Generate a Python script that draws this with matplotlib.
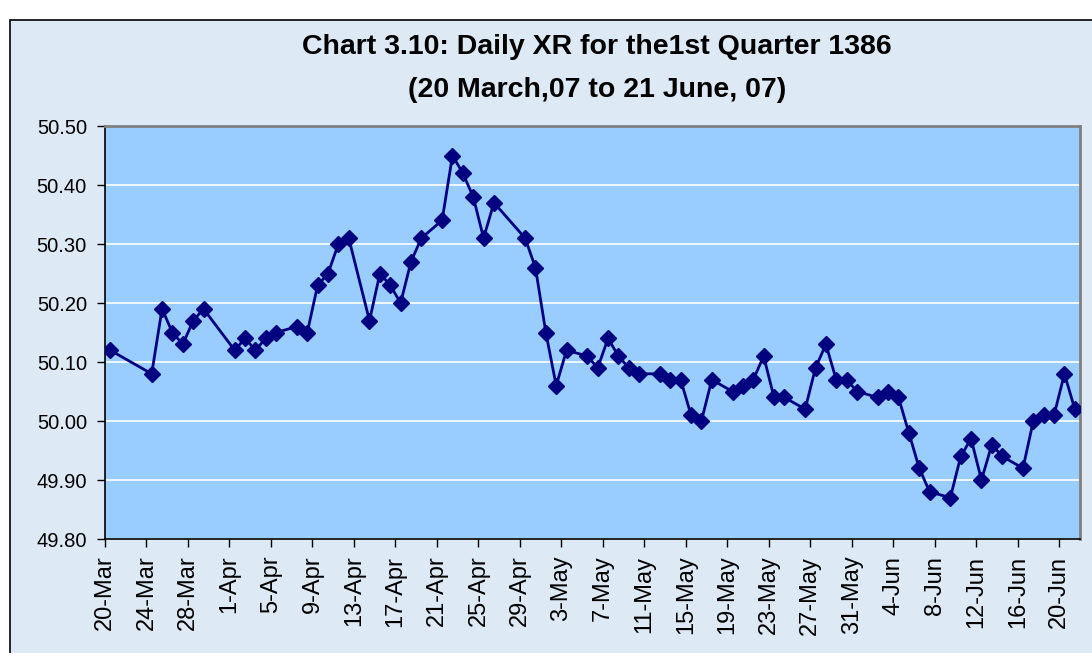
import numpy as np
import pandas as pd
import matplotlib
matplotlib.use("Agg")
import matplotlib.pyplot as plt
from matplotlib.patches import Rectangle

plt.rcParams['font.family'] = ['Liberation Sans', 'DejaVu Sans']

# daily exchange rate, 20 Mar 2007 - 21 Jun 2007 (working days only)
dates = ['2007-03-20', '2007-03-24', '2007-03-25', '2007-03-26', '2007-03-27', '2007-03-28',
         '2007-03-29', '2007-04-01', '2007-04-02', '2007-04-03', '2007-04-04', '2007-04-05',
         '2007-04-07', '2007-04-08', '2007-04-09', '2007-04-10', '2007-04-11', '2007-04-12',
         '2007-04-14', '2007-04-15', '2007-04-16', '2007-04-17', '2007-04-18', '2007-04-19',
         '2007-04-21', '2007-04-22', '2007-04-23', '2007-04-24', '2007-04-25', '2007-04-26',
         '2007-04-29', '2007-04-30', '2007-05-01', '2007-05-02', '2007-05-03', '2007-05-05',
         '2007-05-06', '2007-05-07', '2007-05-08', '2007-05-09', '2007-05-10', '2007-05-12',
         '2007-05-13', '2007-05-14', '2007-05-15', '2007-05-16', '2007-05-17', '2007-05-19',
         '2007-05-20', '2007-05-21', '2007-05-22', '2007-05-23', '2007-05-24', '2007-05-26',
         '2007-05-27', '2007-05-28', '2007-05-29', '2007-05-30', '2007-05-31', '2007-06-02',
         '2007-06-03', '2007-06-04', '2007-06-05', '2007-06-06', '2007-06-07', '2007-06-09',
         '2007-06-10', '2007-06-11', '2007-06-12', '2007-06-13', '2007-06-14', '2007-06-16',
         '2007-06-17', '2007-06-18', '2007-06-19', '2007-06-20', '2007-06-21']
rates = [50.12, 50.08, 50.19, 50.15, 50.13, 50.17,
         50.19, 50.12, 50.14, 50.12, 50.14, 50.15,
         50.16, 50.15, 50.23, 50.25, 50.30, 50.31,
         50.17, 50.25, 50.23, 50.20, 50.27, 50.31,
         50.34, 50.45, 50.42, 50.38, 50.31, 50.37,
         50.31, 50.26, 50.15, 50.06, 50.12, 50.11,
         50.09, 50.14, 50.11, 50.09, 50.08, 50.08,
         50.07, 50.07, 50.01, 50.00, 50.07, 50.05,
         50.06, 50.07, 50.11, 50.04, 50.04, 50.02,
         50.09, 50.13, 50.07, 50.07, 50.05, 50.04,
         50.05, 50.04, 49.98, 49.92, 49.88, 49.87,
         49.94, 49.97, 49.90, 49.96, 49.94, 49.92,
         50.00, 50.01, 50.01, 50.08, 50.02]

start = pd.Timestamp('2007-03-20')
end = pd.Timestamp('2007-06-21')
days = (pd.to_datetime(dates) - start).days.to_numpy()
n_days = (end - start).days + 1

tick_days = np.arange(0, n_days, 4)
tick_labels = [(start + pd.Timedelta(days=int(d))).strftime('%-d-%b') for d in tick_days]

fig = plt.figure(figsize=(10.92, 6.53), dpi=100)
fig.patch.set_facecolor('white')
fig.add_artist(Rectangle((10 / 1092, -0.05), 1.1, 0.05 + 1 - 20 / 653,
                         transform=fig.transFigure, facecolor='#dde9f5',
                         edgecolor='black', linewidth=1.2, zorder=0))

ax = fig.add_axes([105 / 1092, 1 - 539 / 653, (1080 - 105) / 1092, (539 - 126) / 653])
ax.set_facecolor('#99ccff')

ax.plot(days, rates, color='#000080', linewidth=2, marker='D', markersize=8,
        markerfacecolor='#000080', markeredgecolor='#000080', zorder=3)

ax.set_xlim(-0.5, n_days - 0.5)
ax.set_ylim(49.8, 50.5)
ax.set_yticks(np.arange(49.8, 50.51, 0.1))
ax.set_yticklabels(['%.2f' % v for v in np.arange(49.8, 50.51, 0.1)])
ax.yaxis.grid(True, color='white', linewidth=1.2)
ax.set_axisbelow(True)

ax.set_xticks(tick_days - 0.5)
ax.set_xticklabels(tick_labels, rotation=90)

ax.tick_params(axis='both', direction='out', length=6, width=1, colors='black')
ax.tick_params(axis='x', labelsize=17, pad=6)
ax.tick_params(axis='y', labelsize=14.5, pad=7)
for s in ['left', 'bottom']:
    ax.spines[s].set_color('black')
    ax.spines[s].set_linewidth(1.2)
for s in ['top', 'right']:
    ax.spines[s].set_color('#808080')
    ax.spines[s].set_linewidth(2)

fig.text(597 / 1092, 1 - 47 / 653, 'Chart 3.10: Daily XR for the1st Quarter 1386',
         ha='center', va='center', fontsize=20.5, fontweight='bold')
fig.text(597 / 1092, 1 - 90 / 653, '(20 March,07 to 21 June, 07)',
         ha='center', va='center', fontsize=20.5, fontweight='bold')

fig.savefig('out.png', dpi=100)
